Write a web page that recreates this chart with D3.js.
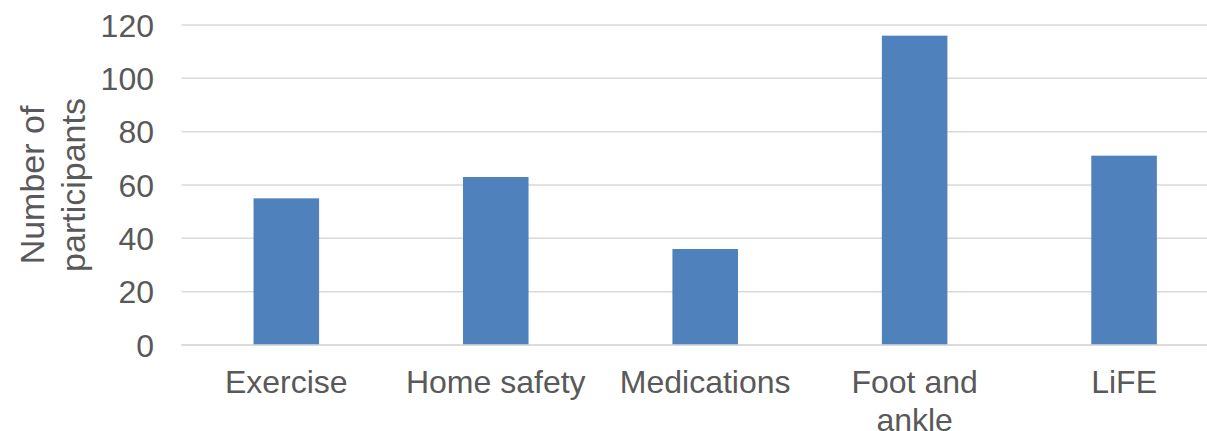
<!DOCTYPE html>
<html>
<head>
<meta charset="utf-8">
<script src="https://cdn.jsdelivr.net/npm/d3@7"></script>
<style>
  html, body { margin: 0; padding: 0; background: #fff; }
  svg { display: block; }
  text { font-family: "Liberation Sans", Arial, sans-serif; fill: #595959; }
</style>
</head>
<body>
<svg id="chart" width="1207" height="431"></svg>
<script>
const categories = ["Exercise", "Home safety", "Medications", "Foot and ankle", "LiFE"];
const categoryLines = [["Exercise"], ["Home safety"], ["Medications"], ["Foot and", "ankle"], ["LiFE"]];
const values = [55, 63, 36, 116, 71];
const yTicks = [0, 20, 40, 60, 80, 100, 120];
const yTitleLines = ["Number of", "participants"];

const svg = d3.select("#chart");
const W = 1207, H = 431;
const plotLeft = 181.6, plotRight = 1228.8, plotTop = 25, plotBottom = 345;

const x = d3.scaleBand()
  .domain(categories)
  .range([plotLeft, plotRight])
  .paddingInner(0.687)
  .paddingOuter(0.3435);

const y = d3.scaleLinear().domain([0, 120]).range([plotBottom, plotTop]);

// gridlines
svg.append("g")
  .selectAll("line")
  .data(yTicks)
  .join("line")
  .attr("x1", plotLeft)
  .attr("x2", W)
  .attr("y1", d => y(d))
  .attr("y2", d => y(d))
  .attr("stroke", "#D9D9D9")
  .attr("stroke-width", 1.5);

// y tick labels
svg.append("g")
  .selectAll("text")
  .data(yTicks)
  .join("text")
  .attr("x", 154)
  .attr("y", d => y(d))
  .attr("dy", "0.36em")
  .attr("text-anchor", "end")
  .style("font-size", "32px")
  .text(d => d);

// bars
svg.append("g")
  .selectAll("rect")
  .data(values)
  .join("rect")
  .attr("x", (d, i) => x(categories[i]))
  .attr("width", x.bandwidth())
  .attr("y", d => y(d))
  .attr("height", d => y(0) - y(d))
  .attr("fill", "#4F81BD");

// redraw baseline over bars
svg.append("line")
  .attr("x1", plotLeft).attr("x2", W)
  .attr("y1", y(0)).attr("y2", y(0))
  .attr("stroke", "#D9D9D9").attr("stroke-width", 1.5);

// category labels
const lab = svg.append("g")
  .selectAll("text")
  .data(categories)
  .join("text")
  .attr("x", d => x(d) + x.bandwidth() / 2)
  .attr("y", 393)
  .attr("text-anchor", "middle")
  .style("font-size", "32px");
lab.each(function(d, i) {
  const t = d3.select(this);
  categoryLines[i].forEach((ln, j) => {
    t.append("tspan")
      .attr("x", x(d) + x.bandwidth() / 2)
      .attr("dy", j === 0 ? 0 : 38)
      .text(ln);
  });
});

// y axis title
const yt = svg.append("text")
  .attr("transform", "translate(43.5,185) rotate(-90)")
  .attr("text-anchor", "middle")
  .style("font-size", "34px");
yTitleLines.forEach((ln, j) => {
  yt.append("tspan")
    .attr("x", 0)
    .attr("dy", j === 0 ? 0 : 41.5)
    .text(ln);
});
</script>
</body>
</html>
